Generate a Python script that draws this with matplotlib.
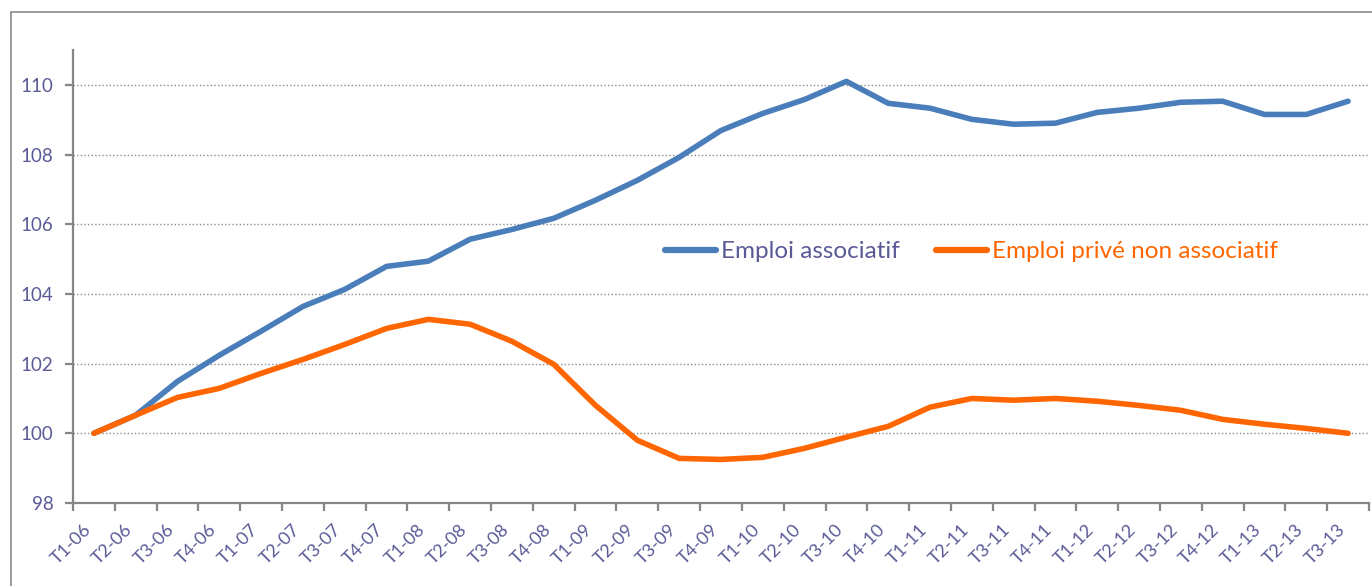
import matplotlib
matplotlib.use("Agg")
from matplotlib import pyplot as plt
from matplotlib.patches import Rectangle
from matplotlib.lines import Line2D
import numpy as np

plt.rcParams['font.family'] = ['Lato', 'DejaVu Sans']

quarters = ['T1-06', 'T2-06', 'T3-06', 'T4-06',
            'T1-07', 'T2-07', 'T3-07', 'T4-07',
            'T1-08', 'T2-08', 'T3-08', 'T4-08',
            'T1-09', 'T2-09', 'T3-09', 'T4-09',
            'T1-10', 'T2-10', 'T3-10', 'T4-10',
            'T1-11', 'T2-11', 'T3-11', 'T4-11',
            'T1-12', 'T2-12', 'T3-12', 'T4-12',
            'T1-13', 'T2-13', 'T3-13']

emploi_associatif = [100.0, 100.52, 101.49, 102.24,
                     102.93, 103.64, 104.13, 104.79,
                     104.94, 105.57, 105.85, 106.17,
                     106.69, 107.26, 107.92, 108.69,
                     109.18, 109.58, 110.10, 109.47,
                     109.33, 109.01, 108.87, 108.90,
                     109.21, 109.33, 109.50, 109.53,
                     109.15, 109.15, 109.53]

emploi_prive = [100.0, 100.52, 101.03, 101.29,
                101.72, 102.12, 102.55, 103.01,
                103.27, 103.13, 102.64, 101.98,
                100.80, 99.80, 99.28, 99.25,
                99.31, 99.57, 99.89, 100.20,
                100.75, 101.00, 100.95, 101.00,
                100.92, 100.80, 100.66, 100.40,
                100.26, 100.14, 100.0]

labels = ['Emploi associatif', 'Emploi privé non associatif']
colors = ['#4a7ebb', '#ff6600']
text_col = '#5a5a98'
axis_col = '#868686'

fig = plt.figure(figsize=(13.72, 5.86), dpi=100)
# outer chart frame (cut off at right/bottom like the source)
fig.patches.append(Rectangle((11 / 1372, -0.05), 1.2, 0.05 + (586 - 12) / 586,
                             transform=fig.transFigure, fill=False,
                             edgecolor='#8a8a8a', lw=1.2))
ax = fig.add_axes([73 / 1372, 83 / 586, 1296 / 1372, 453 / 586])

x = np.arange(len(quarters))
ax.plot(x, emploi_associatif, color=colors[0], lw=4, solid_capstyle='round',
        solid_joinstyle='round', zorder=3)
ax.plot(x, emploi_prive, color=colors[1], lw=4, solid_capstyle='round',
        solid_joinstyle='round', zorder=3)

ax.set_xlim(-0.5, len(quarters) - 0.5)
ax.set_ylim(98, 111)
ax.set_yticks([98, 100, 102, 104, 106, 108, 110])
ax.yaxis.grid(True, color='#8c8c8c', lw=1, linestyle=(0, (1, 1.6)))
ax.set_axisbelow(True)

for s in ['top', 'right']:
    ax.spines[s].set_visible(False)
for s in ['left', 'bottom']:
    ax.spines[s].set_color(axis_col)
    ax.spines[s].set_linewidth(1.6)

ax.set_xticks(x)
ax.set_xticklabels(quarters, rotation=45, ha='right', va='top',
                   fontsize=13, color=text_col)
ax.set_xticks(np.arange(len(quarters) + 1) - 0.5, minor=True)
ax.tick_params(axis='x', which='major', length=0, pad=13)
ax.tick_params(axis='x', which='minor', length=6, width=1.6, color=axis_col)
ax.tick_params(axis='y', length=6, width=1.6, color=axis_col,
               labelsize=13.5, labelcolor=text_col, pad=8)

handles = [Line2D([], [], color=c, lw=4.5, solid_capstyle='round') for c in colors]
ax.legend(handles, labels, loc='center left', bbox_to_anchor=(0.449, 0.555),
          ncol=2, frameon=False, fontsize=17.5, handlelength=2.1,
          handletextpad=0.2, columnspacing=1.5, borderaxespad=0,
          labelcolor=[text_col, colors[1]])

fig.savefig('out.png', dpi=100)
